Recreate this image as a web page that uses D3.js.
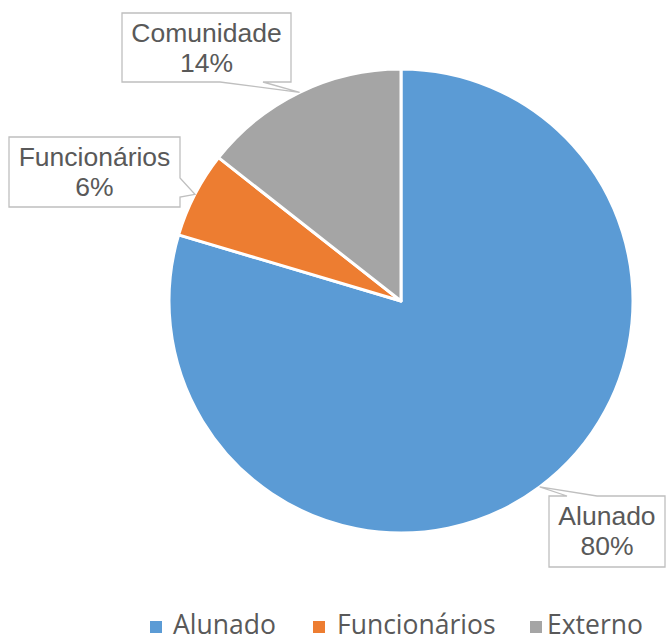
<!DOCTYPE html>
<html><head><meta charset="utf-8">
<script src="https://cdn.jsdelivr.net/npm/d3@7"></script>
<style>body{margin:0;background:#fff}svg{display:block}</style>
</head><body>
<svg id="c" width="666" height="641"></svg>
<script>
const categories = ["Alunado", "Funcionários", "Comunidade"];
const legendLabels = ["Alunado", "Funcionários", "Externo"];
const values = [79.6, 6.0, 14.4];
const percentLabels = ["80%", "6%", "14%"];
const colors = ["#5B9BD5", "#ED7D31", "#A5A5A5"];

const svg = d3.select("#c");
const cx = 401, cy = 301, R = 232;
const pie = d3.pie().sort(null).value(d => d)(values);
const arc = d3.arc().innerRadius(0).outerRadius(R);
const g = svg.append("g").attr("transform", `translate(${cx},${cy})`);
g.selectAll("path.s").data(pie).join("path").attr("class","s")
  .attr("d", arc).attr("fill", (d,i)=>colors[i])
  .attr("stroke","#fff").attr("stroke-width",3).attr("stroke-linejoin","round");

// callout boxes: layout
const boxes = [
  {x:549, y:496, w:116, h:71, side:"top", a:567, b:597},
  {x:9, y:137, w:171, h:70, side:"right", a:178, b:197},
  {x:122, y:13, w:169, h:69, side:"bottom", a:220, b:263}
];
const tipArc = d3.arc().innerRadius(R).outerRadius(R);
pie.forEach((d,i)=>{
  const bx = boxes[i];
  const c = tipArc.centroid(d);
  const tx = cx + c[0], ty = cy + c[1];
  const x0=bx.x, y0=bx.y, x1=bx.x+bx.w, y1=bx.y+bx.h;
  let p;
  if (bx.side==="top") p = `M${x0},${y0}L${bx.a},${y0}L${tx},${ty}L${bx.b},${y0}L${x1},${y0}L${x1},${y1}L${x0},${y1}Z`;
  else if (bx.side==="right") p = `M${x0},${y0}L${x1},${y0}L${x1},${bx.a}L${tx},${ty}L${x1},${bx.b}L${x1},${y1}L${x0},${y1}Z`;
  else p = `M${x0},${y0}L${x1},${y0}L${x1},${y1}L${bx.b},${y1}L${tx},${ty}L${bx.a},${y1}L${x0},${y1}Z`;
  svg.append("path").attr("d",p).attr("fill","#fff").attr("stroke","#BFBFBF").attr("stroke-width",1.3);
  const t = svg.append("text").attr("text-anchor","middle")
    .attr("font-family","'Liberation Sans', Arial, sans-serif").attr("font-size",26.5).attr("fill","#595959");
  const mx = bx.x + bx.w/2;
  t.append("tspan").attr("x",mx).attr("y",bx.y+29).text(categories[i]);
  t.append("tspan").attr("x",mx).attr("y",bx.y+59).text(percentLabels[i]);
});

// legend
const legSq = [150, 313, 530];
const legTx = [173, 337, 547];
const lg = svg.append("g");
legendLabels.forEach((l,i)=>{
  lg.append("rect").attr("x",legSq[i]).attr("y",621).attr("width",12).attr("height",12).attr("fill",colors[i]);
  lg.append("text").attr("x",legTx[i]).attr("y",634)
    .attr("font-family","'Open Sans', sans-serif").attr("font-size",26.5).attr("fill","#595959").text(l);
});
</script>
</body></html>
